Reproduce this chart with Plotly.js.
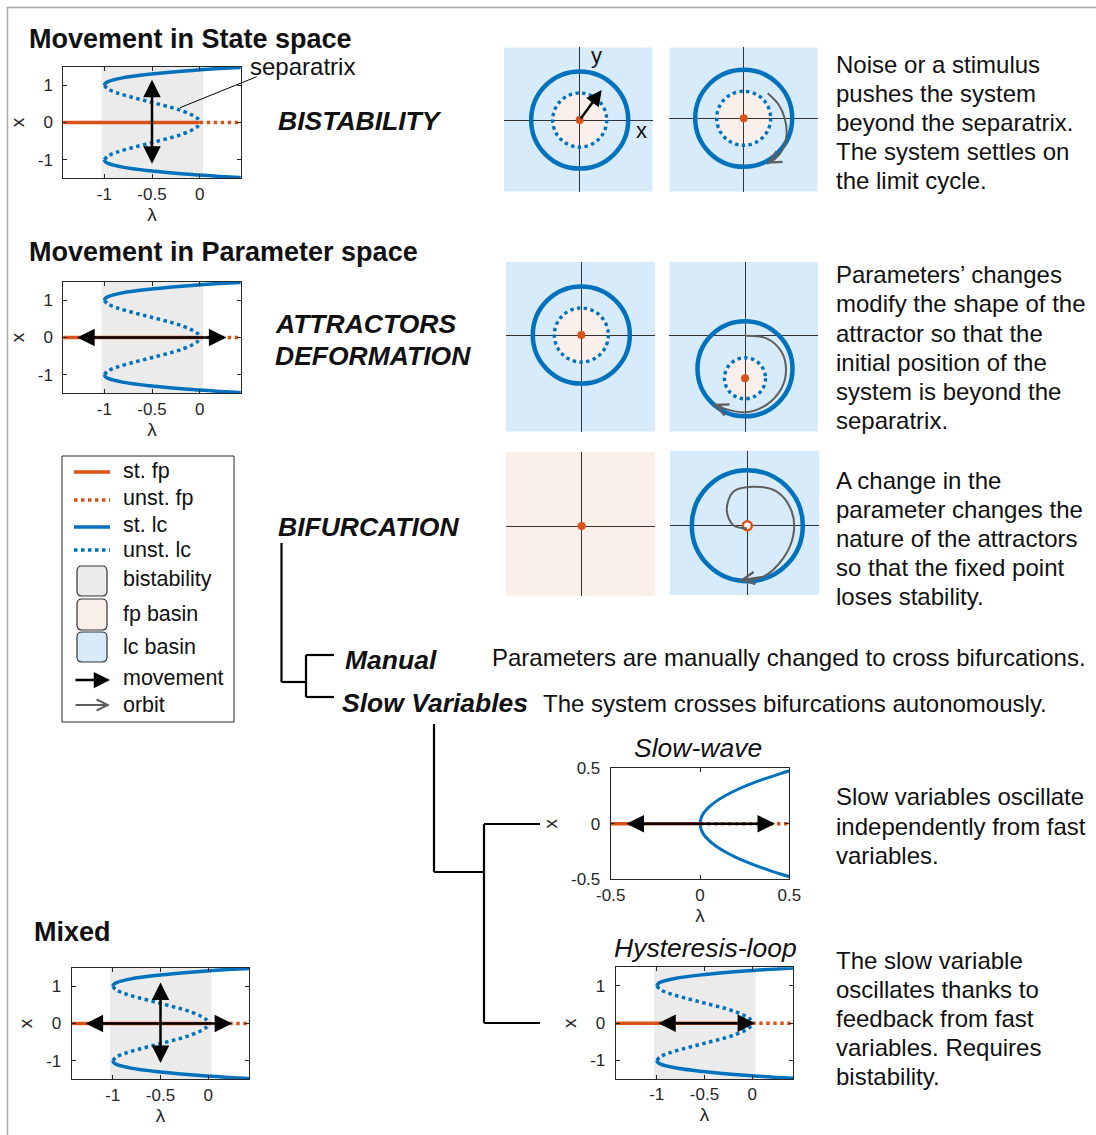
<!DOCTYPE html>
<html><head><meta charset="utf-8">
<script src="https://cdn.plot.ly/plotly-3.0.1.min.js"></script>
<style>html,body{margin:0;padding:0;background:#fff;}</style>
</head><body>
<div id="chart" style="width:1096px;height:1135px;"></div>
<script>
// ================= DATA =================
// Bistable (subcritical Hopf) bifurcation diagram
const stFpLam   = [-1.45, 0];
const stFpX     = [0, 0];
const unstFpLam = [0, 0.45];
const unstFpX   = [0, 0];
const unstLcX   = [1, 0.9, 0.8, 0.7, 0.6, 0.5, 0.4, 0.3, 0.2, 0.1, 0];
const unstLcLam = [-1, -0.96, -0.87, -0.74, -0.59, -0.44, -0.29, -0.17, -0.08, -0.02, 0];
const stLcX     = [1, 1.05, 1.1, 1.2, 1.3, 1.4, 1.45, 1.48, 1.5];
const stLcLam   = [-1, -0.99, -0.96, -0.81, -0.52, -0.08, 0.21, 0.42, 0.56];
const bistRegion = [-1.03, 0.035];
const bifXTicks = [-1, -0.5, 0];
const bifXTickText = ['-1', '-0.5', '0'];
const bifYTicks = [-1, 0, 1];
const bifYTickText = ['-1', '0', '1'];

// Slow-wave (supercritical Hopf) diagram
const swStFpLam   = [-0.5, 0];
const swUnstFpLam = [0, 0.5];
const swFpX       = [0, 0];
const swLcX   = [0, 0.05, 0.1, 0.15, 0.2, 0.25, 0.3, 0.35, 0.4, 0.45, 0.48];
const swLcLam = [0, 0.006, 0.022, 0.05, 0.088, 0.138, 0.198, 0.27, 0.352, 0.446, 0.507];
const swTicks = [-0.5, 0, 0.5];
const swTickText = ['-0.5', '0', '0.5'];

// Movement arrows (tail -> head)
const stateMoveLam = [-0.5, -0.5], stateMoveX = [-1.15, 1.15];
const paramMoveLam = [-1.3, 0.28], paramMoveX = [0, 0];
const mixedHLam = [-1.3, 0.25], mixedHX = [0, 0];
const mixedVLam = [-0.5, -0.5], mixedVX = [-1.1, 1.1];
const hystMoveLam = [-1.0, 0.03], hystMoveX = [0, 0];
const slowMoveLam = [-0.42, 0.42], slowMoveX = [0, 0];

// Phase portraits A..F (units: stable cycle radius ~1)
const lcRadius  = [0.97, 0.97, 0.97, 0.95, null, 1.11];
const lcCenterY = [0, 0, 0, -0.67, null, 0];
const sepRadius = [0.54, 0.54, 0.54, 0.41, null, null];
const fpX = [0, 0, 0, 0, 0, 0];
const fpY = [0, 0, 0, -0.86, 0, 0];
const fpStable = [true, true, true, true, true, false];
const pushArrowX = [0, 0.44], pushArrowY = [0, 0.6];
const orbitBX = [0.48, 0.70, 0.82, 0.86, 0.78, 0.62, 0.46];
const orbitBY = [0.50, 0.27, 0.0, -0.30, -0.62, -0.82, -0.91];
const orbitDX = [0, 0.43, 0.73, 0.82, 0.73, 0.43, 0, -0.43, -0.63];
const orbitDY = [-0.01, -0.06, -0.33, -0.69, -1.06, -1.39, -1.54, -1.46, -1.37];
const orbitFX = [-0.01, -0.28, -0.41, -0.28, 0.12, 0.59, 0.89, 0.92, 0.72, 0.32, -0.15];
const orbitFY = [-0.05, 0.01, 0.31, 0.68, 0.78, 0.68, 0.28, -0.19, -0.65, -1.02, -1.09];

// Legend
const legendLabels = ['st. fp', 'unst. fp', 'st. lc', 'unst. lc', 'bistability', 'fp basin', 'lc basin', 'movement', 'orbit'];

// Texts
const p1 = ['Noise or a stimulus', 'pushes the system', 'beyond the separatrix.', 'The system settles on', 'the limit cycle.'];
const p2 = ['Parameters\u2019 changes', 'modify the shape of the', 'attractor so that the', 'initial position of the', 'system is beyond the', 'separatrix.'];
const p3 = ['A change in the', 'parameter changes the', 'nature of the attractors', 'so that the fixed point', 'loses stability.'];
const p4 = ['Slow variables oscillate', 'independently from fast', 'variables.'];
const p5 = ['The slow variable', 'oscillates thanks to', 'feedback from fast', 'variables. Requires', 'bistability.'];

// ================= STYLE / LAYOUT =================
const W = 1096, H = 1135;
const F = '"Liberation Sans", Arial, Helvetica, sans-serif';
const ORANGE = '#d95319', BLUE = '#0072bd', BIST = '#ebebeb', FPB = '#fbefeb', LCB = '#d7ebfa';
const GRAY = '#5e5e5e', AX = '#262626', TXT = '#111111';
const UNIT = 50;

const traces = [];
const layout = {
  width: W, height: H, margin: {l: 0, r: 0, t: 0, b: 0, pad: 0},
  showlegend: false, paper_bgcolor: '#ffffff', plot_bgcolor: 'rgba(0,0,0,0)',
  font: {family: F, color: TXT}, shapes: [], annotations: []
};
// overlay axis in pixel units
layout.xaxis = {domain: [0, 1], range: [0, W], visible: false, fixedrange: true};
layout.yaxis = {domain: [0, 1], range: [H, 0], visible: false, fixedrange: true};
traces.push({x: [], y: [], xaxis: 'x', yaxis: 'y', mode: 'markers', hoverinfo: 'skip'});

const axCommon = {
  showline: true, linecolor: AX, linewidth: 1, mirror: 'ticks', ticks: 'inside', ticklen: 4,
  tickwidth: 1, tickcolor: AX, showgrid: false, zeroline: false,
  tickfont: {family: F, size: 17, color: AX}, fixedrange: true
};
function bifAxes(n, box, xr, yr, xt, xtt, yt, ytt) {
  layout['xaxis' + n] = Object.assign({}, axCommon, {
    domain: [box[0] / W, box[2] / W], range: xr, anchor: 'y' + n, tickvals: xt, ticktext: xtt,
    title: {text: '\u03bb', font: {family: F, size: 19, color: AX}, standoff: 3}
  });
  layout['yaxis' + n] = Object.assign({}, axCommon, {
    domain: [1 - box[3] / H, 1 - box[1] / H], range: yr, anchor: 'x' + n, tickvals: yt, ticktext: ytt,
    ticklabelstandoff: 6,
    title: {text: 'x', font: {family: F, size: 19, color: AX}, standoff: 8}
  });
}
function line(n, x, y, color, dash, width, shape) {
  traces.push({x: x, y: y, xaxis: 'x' + n, yaxis: 'y' + n, mode: 'lines', hoverinfo: 'skip',
    line: {color: color, width: width || 3.5, dash: dash || 'solid', shape: shape || 'linear'}});
}
function arrowAnn(xref, yref, xs, ys, opt) {
  layout.annotations.push(Object.assign({
    xref: xref, yref: yref, axref: xref, ayref: yref,
    x: xs[1], y: ys[1], ax: xs[0], ay: ys[0], text: '', showarrow: true,
    arrowhead: 2, arrowsize: 1.4, arrowwidth: 2.5, arrowcolor: '#000',
    standoff: 0, startstandoff: 0
  }, opt || {}));
}
const dbl = {arrowside: 'end+start', startarrowhead: 2, startarrowsize: 1.4};

// ---- bistable panels ----
const bifPanels = [
  {n: 2, box: [63.3, 66.7, 240.7, 178.3], moves: [[stateMoveLam, stateMoveX]]},
  {n: 3, box: [63.3, 281.7, 240.7, 393.3], moves: [[paramMoveLam, paramMoveX]]},
  {n: 4, box: [71.7, 967.7, 249.3, 1079.3], moves: [[mixedHLam, mixedHX], [mixedVLam, mixedVX]]},
  {n: 5, box: [615.7, 967.3, 793.3, 1079], moves: [[hystMoveLam, hystMoveX]]}
];
bifPanels.forEach(p => {
  bifAxes(p.n, p.box, [-1.43, 0.43], [-1.5, 1.5], bifXTicks, bifXTickText, bifYTicks, bifYTickText);
  layout.shapes.push({type: 'rect', xref: 'x' + p.n, yref: 'y' + p.n, x0: bistRegion[0], x1: bistRegion[1],
    y0: -1.5, y1: 1.5, fillcolor: BIST, line: {width: 0}, layer: 'below'});
  line(p.n, unstLcLam, unstLcX, BLUE, 'dot', 3.5, 'spline');
  line(p.n, unstLcLam, unstLcX.map(v => -v), BLUE, 'dot', 3.5, 'spline');
  line(p.n, stLcLam, stLcX, BLUE, 'solid', 3.5, 'spline');
  line(p.n, stLcLam, stLcX.map(v => -v), BLUE, 'solid', 3.5, 'spline');
  line(p.n, stFpLam, stFpX, ORANGE, 'solid', 3.5);
  line(p.n, unstFpLam, unstFpX, ORANGE, 'dot', 3.5);
  p.moves.forEach(m => arrowAnn('x' + p.n, 'y' + p.n, m[0], m[1], dbl));
});

// ---- slow-wave panel ----
bifAxes(6, [610.7, 768.3, 789.3, 879.3], [-0.5, 0.5], [-0.5, 0.5], swTicks, swTickText, swTicks, swTickText);
line(6, swLcLam, swLcX, BLUE, 'solid', 3, 'spline');
line(6, swLcLam, swLcX.map(v => -v), BLUE, 'solid', 3, 'spline');
line(6, swStFpLam, swFpX, ORANGE, 'solid', 3.5);
line(6, swUnstFpLam, swFpX, ORANGE, 'dot', 3.5);
arrowAnn('x6', 'y6', slowMoveLam, slowMoveX, dbl);

// ---- phase portraits ----
const phaseBoxes = [
  {box: [504, 47.3, 652.7, 191.7], c: [579.7, 120], bg: LCB},
  {box: [669.3, 47.3, 817.7, 191.7], c: [743.7, 118.3], bg: LCB},
  {box: [506, 261.7, 655, 431.7], c: [581.3, 335], bg: LCB},
  {box: [669.3, 261.7, 818, 431.7], c: [745, 335.3], bg: LCB},
  {box: [506, 451.7, 655, 595.7], c: [581.7, 526], bg: FPB},
  {box: [670, 451, 819, 595], c: [747.3, 525.7], bg: LCB}
];
phaseBoxes.forEach((p, i) => {
  const n = 7 + i, b = p.box, c = p.c;
  const xr = [(b[0] - c[0]) / UNIT, (b[2] - c[0]) / UNIT];
  const yr = [(c[1] - b[3]) / UNIT, (c[1] - b[1]) / UNIT];
  const pa = {showticklabels: false, ticks: '', showline: false, showgrid: false,
    zeroline: true, zerolinecolor: '#333333', zerolinewidth: 1, fixedrange: true};
  layout['xaxis' + n] = Object.assign({domain: [b[0] / W, b[2] / W], range: xr, anchor: 'y' + n}, pa);
  layout['yaxis' + n] = Object.assign({domain: [1 - b[3] / H, 1 - b[1] / H], range: yr, anchor: 'x' + n}, pa);
  const xa = 'x' + n, ya = 'y' + n;
  layout.shapes.push({type: 'rect', xref: xa, yref: ya, x0: xr[0], x1: xr[1], y0: yr[0], y1: yr[1],
    fillcolor: p.bg, line: {width: 0}, layer: 'below'});
  if (sepRadius[i] !== null) {
    const r = sepRadius[i];
    layout.shapes.push({type: 'circle', xref: xa, yref: ya, x0: fpX[i] - r, x1: fpX[i] + r,
      y0: fpY[i] - r, y1: fpY[i] + r, fillcolor: FPB, line: {width: 0}, layer: 'below'});
    layout.shapes.push({type: 'circle', xref: xa, yref: ya, x0: fpX[i] - r, x1: fpX[i] + r,
      y0: fpY[i] - r, y1: fpY[i] + r, line: {color: BLUE, width: 3.4, dash: 'dot'}, layer: 'between'});
  }
  if (lcRadius[i] !== null) {
    const r = lcRadius[i];
    layout.shapes.push({type: 'circle', xref: xa, yref: ya, x0: -r, x1: r,
      y0: lcCenterY[i] - r, y1: lcCenterY[i] + r, line: {color: BLUE, width: 4.5}, layer: 'between'});
  }
  traces.push({x: [fpX[i]], y: [fpY[i]], xaxis: xa, yaxis: ya, mode: 'markers', hoverinfo: 'skip',
    marker: fpStable[i] ? {color: ORANGE, size: 8} :
      {color: '#ffffff', size: 9, line: {color: ORANGE, width: 2.5}}});
});
// push arrow in A
arrowAnn('x7', 'y7', pushArrowX, pushArrowY, {arrowsize: 1.3, arrowwidth: 2.4});
// orbits
function orbit(n, xs, ys) {
  traces.push({x: xs, y: ys, xaxis: 'x' + n, yaxis: 'y' + n, mode: 'lines', hoverinfo: 'skip',
    line: {color: GRAY, width: 2, shape: 'spline'}});
  const k = xs.length;
  arrowAnn('x' + n, 'y' + n, [xs[k - 2], xs[k - 1]], [ys[k - 2], ys[k - 1]],
    {arrowhead: 5, arrowsize: 1.2, arrowwidth: 2, arrowcolor: GRAY});
}
orbit(8, orbitBX, orbitBY);
orbit(10, orbitDX, orbitDY);
orbit(12, orbitFX, orbitFY);

// ================= TEXT (overlay, pixel coordinates) =================
function txt(s, x, y, opt) {
  const o = opt || {};
  layout.annotations.push({text: s, x: x, y: y, xref: 'x', yref: 'y', showarrow: false,
    xanchor: o.xanchor || 'left', yanchor: 'middle',
    font: {family: F, size: o.size || 24, color: o.color || TXT, weight: o.weight || 'normal', style: o.style || 'normal'}});
}
const HEAD = {size: 27, weight: 'bold'};
const BI = {size: 26.5, weight: 'bold', style: 'italic'};
txt('Movement in State space', 27, 39, HEAD);
txt('Movement in Parameter space', 27, 252, HEAD);
txt('Mixed', 32, 932, HEAD);
txt('BISTABILITY', 276, 121, BI);
txt('ATTRACTORS', 273, 324, BI);
txt('DEFORMATION', 273, 356, BI);
txt('BIFURCATION', 276, 527, BI);
txt('Manual', 343, 660, BI);
txt('Slow Variables', 340, 703, BI);
txt('Slow-wave', 698, 748, {xanchor: 'center', size: 26.5, style: 'italic'});
txt('Hysteresis-loop', 705, 948, {xanchor: 'center', size: 26.5, style: 'italic'});
txt('Parameters are manually changed to cross bifurcations.', 490, 657);
txt('The system crosses bifurcations autonomously.', 541, 703);
txt('separatrix', 248, 66);
txt('y', 596, 55, {size: 22, xanchor: 'center'});
txt('x', 641, 130, {size: 22, xanchor: 'center'});
function para(lines, x, ys) { lines.forEach((s, i) => txt(s, x, ys[i])); }
para(p1, 834, [64, 93, 122, 151, 180]);
para(p2, 834, [274, 303, 333, 362, 391, 420]);
para(p3, 834, [480, 509, 538, 567, 596]);
para(p4, 834, [796, 826, 855]);
para(p5, 834, [960, 989, 1018, 1047, 1076]);

// separatrix pointer
layout.shapes.push({type: 'line', xref: 'x', yref: 'y', x0: 256.7, y0: 76.7, x1: 180, y1: 107.7,
  line: {color: '#000', width: 1}, layer: 'above'});

// frame
layout.shapes.push({type: 'rect', xref: 'x', yref: 'y', x0: 7.5, y0: 7.5, x1: 1120, y1: 1160,
  line: {color: '#a8a8a8', width: 1.5}, layer: 'above'});

// tree lines
const treeSegs = [
  [281.5, 543, 281.5, 682], [281.5, 682, 306, 682],
  [306, 655, 306, 697], [306, 655, 334, 655], [306, 697, 334, 697],
  [434, 724, 434, 872], [434, 872, 484, 872],
  [484, 824, 484, 1023], [484, 824, 540, 824], [484, 1023, 540, 1023]
];
treeSegs.forEach(s => layout.shapes.push({type: 'line', xref: 'x', yref: 'y',
  x0: s[0], y0: s[1], x1: s[2], y1: s[3], line: {color: '#000', width: 2.2}, layer: 'above'}));

// ---- legend (manual) ----
layout.shapes.push({type: 'rect', xref: 'x', yref: 'y', x0: 62, y0: 456, x1: 234, y1: 722,
  line: {color: AX, width: 1}, layer: 'above'});
const legY = [470.5, 498, 525, 550, 579, 614, 646.5, 678, 705];
const legLineY = [472, 500, 527, 550];
const legLines = [[ORANGE, 'solid'], [ORANGE, 'dot'], [BLUE, 'solid'], [BLUE, 'dot']];
legLines.forEach((l, i) => layout.shapes.push({type: 'line', xref: 'x', yref: 'y',
  x0: 74, x1: 110, y0: legLineY[i], y1: legLineY[i], line: {color: l[0], width: 3.5, dash: l[1]}, layer: 'above'}));
function rrect(x0, y0, x1, y1, r) {
  return `M${x0 + r},${y0} H${x1 - r} Q${x1},${y0} ${x1},${y0 + r} V${y1 - r} Q${x1},${y1} ${x1 - r},${y1} ` +
         `H${x0 + r} Q${x0},${y1} ${x0},${y1 - r} V${y0 + r} Q${x0},${y0} ${x0 + r},${y0} Z`;
}
[[566, 596, BIST], [599, 630, FPB], [632, 662, LCB]].forEach(b => layout.shapes.push({type: 'path',
  xref: 'x', yref: 'y', path: rrect(77, b[0], 107, b[1], 5), fillcolor: b[2],
  line: {color: '#333333', width: 1.2}, layer: 'above'}));
arrowAnn('x', 'y', [74, 110], [680, 680], {arrowsize: 1.3, arrowwidth: 2.5});
arrowAnn('x', 'y', [74, 110], [705, 705], {arrowhead: 5, arrowsize: 1.2, arrowwidth: 1.8, arrowcolor: GRAY});
legendLabels.forEach((s, i) => txt(s, 121, legY[i], {size: 21.5}));

Plotly.newPlot('chart', traces, layout, {displayModeBar: false, staticPlot: true});
</script>
</body></html>
